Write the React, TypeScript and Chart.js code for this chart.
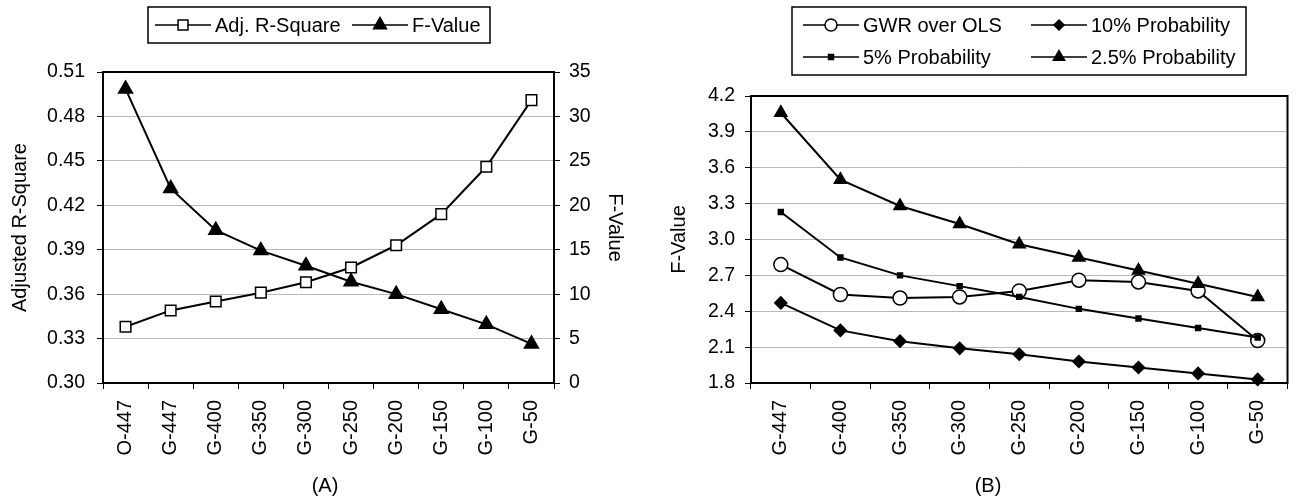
import React, { useEffect, useRef } from 'react';
import { Chart, registerables } from 'chart.js';
import { drawPoint } from 'chart.js/helpers';

Chart.register(...registerables);

const FONT = "'Liberation Sans', Arial, Helvetica, sans-serif";

// ---- Panel (A) data ----
const categoriesA = ['O-447', 'G-447', 'G-400', 'G-350', 'G-300', 'G-250', 'G-200', 'G-150', 'G-100', 'G-50'];
const adjRSquare = [0.338, 0.349, 0.355, 0.361, 0.368, 0.378, 0.393, 0.414, 0.446, 0.491];
const fValueA = [33.1, 21.9, 17.2, 14.9, 13.2, 11.4, 10.0, 8.3, 6.6, 4.4];
const ticksAdjR = [0.3, 0.33, 0.36, 0.39, 0.42, 0.45, 0.48, 0.51];
const ticksFValueA = [0, 5, 10, 15, 20, 25, 30, 35];

// ---- Panel (B) data ----
const categoriesB = ['G-447', 'G-400', 'G-350', 'G-300', 'G-250', 'G-200', 'G-150', 'G-100', 'G-50'];
const gwrOverOls = [2.79, 2.54, 2.51, 2.52, 2.57, 2.66, 2.645, 2.57, 2.155];
const prob10 = [2.47, 2.24, 2.15, 2.09, 2.04, 1.98, 1.93, 1.88, 1.83];
const prob5 = [3.23, 2.85, 2.7, 2.61, 2.52, 2.42, 2.34, 2.26, 2.18];
const prob25 = [4.06, 3.5, 3.28, 3.13, 2.96, 2.85, 2.74, 2.63, 2.52];
const ticksFValueB = [1.8, 2.1, 2.4, 2.7, 3.0, 3.3, 3.6, 3.9, 4.2];

type LegendItem = { label: string; style: string; r: number; fill: string; sx: number; cy: number };
type Decor = {
  box: { x: number; y: number; w: number; h: number };
  items: LegendItem[];
  caption: { text: string; x: number; y: number };
};

const SYM_W = 56;

function makeDecorPlugin(decor: Decor) {
  return {
    id: 'decor',
    beforeDatasetsDraw(chart: any) {
      const { ctx, chartArea: a } = chart;
      ctx.save();
      ctx.strokeStyle = '#000';
      ctx.lineWidth = 2;
      ctx.strokeRect(a.left, a.top, a.right - a.left, a.bottom - a.top);
      ctx.restore();
    },
    afterDraw(chart: any) {
      const { ctx } = chart;
      ctx.save();
      // legend box
      ctx.strokeStyle = '#000';
      ctx.lineWidth = 1.5;
      ctx.strokeRect(decor.box.x, decor.box.y, decor.box.w, decor.box.h);
      ctx.font = `20px ${FONT}`;
      ctx.textBaseline = 'middle';
      ctx.textAlign = 'left';
      for (const it of decor.items) {
        ctx.strokeStyle = '#000';
        ctx.lineWidth = 1.6;
        ctx.beginPath();
        ctx.moveTo(it.sx, it.cy);
        ctx.lineTo(it.sx + SYM_W, it.cy);
        ctx.stroke();
        ctx.fillStyle = it.fill;
        ctx.lineWidth = 1.5;
        drawPoint(ctx, { pointStyle: it.style as any, radius: it.r, rotation: 0, borderWidth: 1.5 }, it.sx + SYM_W / 2, it.cy);
        ctx.fillStyle = '#000';
        ctx.fillText(it.label, it.sx + SYM_W + 4, it.cy + 1);
      }
      // caption
      ctx.textAlign = 'center';
      ctx.fillStyle = '#000';
      ctx.fillText(decor.caption.text, decor.caption.x, decor.caption.y);
      ctx.restore();
    },
  };
}

const tickFont = { family: FONT, size: 19.5 };
const xTickFont = { family: FONT, size: 20 };
const titleFont = { family: FONT, size: 20 };

function xScale() {
  return {
    type: 'category' as const,
    offset: true,
    grid: { display: true, drawOnChartArea: false, drawTicks: true, tickLength: 6, tickColor: '#000', offset: true },
    border: { display: true, color: '#000', width: 2 },
    ticks: { autoSkip: false, minRotation: 90, maxRotation: 90, padding: 11, color: '#000', font: xTickFont },
    afterFit: (s: any) => {
      s.height = 120;
    },
  };
}

function lineDs(label: string, data: number[], yAxisID: string, style: string, r: number, fill: string) {
  return {
    label,
    data,
    yAxisID,
    borderColor: '#000',
    borderWidth: 2,
    pointStyle: style,
    pointRadius: r,
    pointHoverRadius: r,
    pointBackgroundColor: fill,
    pointBorderColor: '#000',
    pointBorderWidth: 1.5,
    tension: 0,
    clip: false,
  };
}

function ChartA() {
  const ref = useRef<HTMLCanvasElement>(null);
  useEffect(() => {
    const decor: Decor = {
      box: { x: 148, y: 7, w: 342, h: 36 },
      items: [
        { label: 'Adj. R-Square', style: 'rect', r: 7, fill: '#fff', sx: 155, cy: 25 },
        { label: 'F-Value', style: 'triangle', r: 7.5, fill: '#000', sx: 352, cy: 25 },
      ],
      caption: { text: '(A)', x: 325, y: 486 },
    };
    const chart = new Chart(ref.current!, {
      type: 'line',
      data: {
        labels: categoriesA,
        datasets: [
          lineDs('Adj. R-Square', adjRSquare, 'y', 'rect', 7.5, '#fff'),
          lineDs('F-Value', fValueA, 'y1', 'triangle', 8, '#000'),
        ] as any,
      },
      options: {
        responsive: false,
        animation: false,
        events: [],
        layout: { padding: { top: 72, left: 0, right: 0, bottom: 0 } },
        plugins: { legend: { display: false }, tooltip: { enabled: false } },
        scales: {
          x: xScale() as any,
          y: {
            position: 'left',
            min: 0.3,
            max: 0.51,
            afterBuildTicks: (s: any) => {
              s.ticks = ticksAdjR.map((v) => ({ value: v }));
            },
            ticks: { callback: (v: any) => Number(v).toFixed(2), padding: 12, color: '#000', font: tickFont },
            grid: { color: '#b9b9b9', lineWidth: 1, tickColor: '#000', tickLength: 6 },
            border: { display: true, color: '#000', width: 2 },
            title: { display: true, text: 'Adjusted R-Square', color: '#000', font: titleFont, padding: { top: 8, bottom: 0 } },
            afterFit: (s: any) => {
              s.width = 103;
            },
          } as any,
          y1: {
            position: 'right',
            min: 0,
            max: 35,
            afterBuildTicks: (s: any) => {
              s.ticks = ticksFValueA.map((v) => ({ value: v }));
            },
            ticks: { callback: (v: any) => String(v), padding: 9, color: '#000', font: tickFont },
            grid: { drawOnChartArea: false, tickColor: '#000', tickLength: 6 },
            border: { display: true, color: '#000', width: 2 },
            title: { display: true, text: 'F-Value', color: '#000', font: titleFont, padding: { top: 21, bottom: 0 } },
            afterFit: (s: any) => {
              s.width = 94;
            },
          } as any,
        },
      },
      plugins: [makeDecorPlugin(decor)],
    });
    return () => chart.destroy();
  }, []);
  return <canvas ref={ref} width={648} height={503} style={{ position: 'absolute', left: 0, top: 0 }} />;
}

function ChartB() {
  const ref = useRef<HTMLCanvasElement>(null);
  useEffect(() => {
    const decor: Decor = {
      box: { x: 144, y: 7, w: 454, h: 68 },
      items: [
        { label: 'GWR over OLS', style: 'circle', r: 6, fill: '#fff', sx: 155, cy: 25 },
        { label: '10% Probability', style: 'rectRot', r: 5, fill: '#000', sx: 383, cy: 25 },
        { label: '5% Probability', style: 'rect', r: 3.5, fill: '#000', sx: 155, cy: 57 },
        { label: '2.5% Probability', style: 'triangle', r: 6.5, fill: '#000', sx: 383, cy: 57 },
      ],
      caption: { text: '(B)', x: 340, y: 486 },
    };
    const chart = new Chart(ref.current!, {
      type: 'line',
      data: {
        labels: categoriesB,
        datasets: [
          lineDs('10% Probability', prob10, 'y', 'rectRot', 6, '#000'),
          lineDs('5% Probability', prob5, 'y', 'rect', 3.5, '#000'),
          lineDs('2.5% Probability', prob25, 'y', 'triangle', 7, '#000'),
          lineDs('GWR over OLS', gwrOverOls, 'y', 'circle', 7, '#fff'),
        ] as any,
      },
      options: {
        responsive: false,
        animation: false,
        events: [],
        layout: { padding: { top: 96, left: 0, right: 8, bottom: 0 } },
        plugins: { legend: { display: false }, tooltip: { enabled: false } },
        scales: {
          x: xScale() as any,
          y: {
            position: 'left',
            min: 1.8,
            max: 4.2,
            afterBuildTicks: (s: any) => {
              s.ticks = ticksFValueB.map((v) => ({ value: v }));
            },
            ticks: { callback: (v: any) => Number(v).toFixed(1), padding: 10, color: '#000', font: tickFont },
            grid: { color: '#b9b9b9', lineWidth: 1, tickColor: '#000', tickLength: 6 },
            border: { display: true, color: '#000', width: 2 },
            title: { display: true, text: 'F-Value', color: '#000', font: titleFont, padding: { top: 19, bottom: 0 } },
            afterFit: (s: any) => {
              s.width = 103;
            },
          } as any,
        },
      },
      plugins: [makeDecorPlugin(decor)],
    });
    return () => chart.destroy();
  }, []);
  return <canvas ref={ref} width={648} height={503} style={{ position: 'absolute', left: 648, top: 0 }} />;
}

export default function App() {
  return (
    <div style={{ position: 'absolute', left: 0, top: 0, width: 1296, height: 503, background: '#fff', overflow: 'hidden' }}>
      <ChartA />
      <ChartB />
    </div>
  );
}
